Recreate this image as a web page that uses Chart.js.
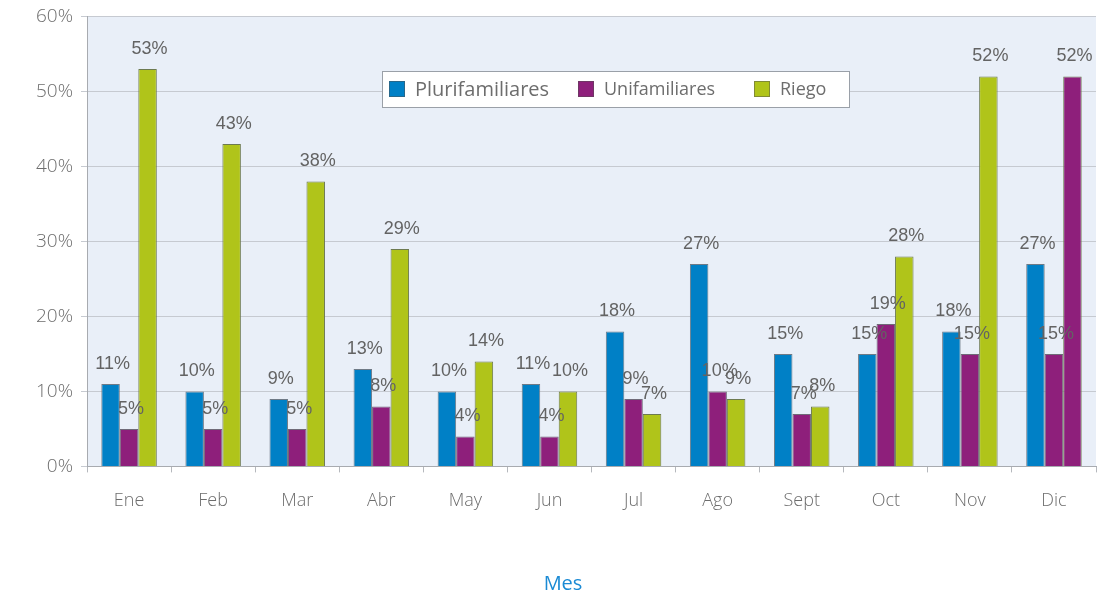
<!DOCTYPE html>
<html>
<head>
<meta charset="utf-8">
<script src="https://cdn.jsdelivr.net/npm/chart.js@4/dist/chart.umd.min.js"></script>
<style>
  html, body { margin: 0; padding: 0; background: #fff; }
  #wrap { width: 1109px; height: 598px; position: relative; }
</style>
</head>
<body>
<div id="wrap"><canvas id="myChart" width="1109" height="598"></canvas></div>
<script>
const meses = ['Ene', 'Feb', 'Mar', 'Abr', 'May', 'Jun', 'Jul', 'Ago', 'Sept', 'Oct', 'Nov', 'Dic']
const plurifamiliares = [11, 10, 9, 13, 10, 11, 18, 27, 15, 15, 18, 27]
const unifamiliares = [5, 5, 5, 8, 4, 4, 9, 10, 7, 19, 15, 15]
const riego = [53, 43, 38, 29, 14, 10, 7, 9, 8, 28, 52, 52]
const yTicks = [0, 10, 20, 30, 40, 50, 60]

const BLUE = '#0080c6'
const PURPLE = '#8e1f7b'
const GREEN = '#b0c41a'

// in the original the last Riego bar is drawn purple
const riegoColors = riego.map((v, i) => i === riego.length - 1 ? PURPLE : GREEN)

// light blue plot background
const plotBg = {
  id: 'plotBg',
  beforeDraw(chart) {
    const a = chart.chartArea
    const ctx = chart.ctx
    ctx.save()
    ctx.fillStyle = '#e9eff8'
    ctx.fillRect(a.left, a.top, a.right - a.left, a.bottom - a.top)
    ctx.restore()
  }
}

// value labels above bars
const barLabels = {
  id: 'barLabels',
  afterDatasetsDraw(chart) {
    const ctx = chart.ctx
    ctx.save()
    ctx.font = '18px "Liberation Sans", Arial, sans-serif'
    ctx.fillStyle = '#636363'
    ctx.textAlign = 'center'
    ctx.textBaseline = 'middle'
    chart.data.datasets.forEach((ds, i) => {
      chart.getDatasetMeta(i).data.forEach((bar, j) => {
        ctx.fillText(ds.data[j] + '%', bar.x + 2, bar.y - 20)
      })
    })
    ctx.restore()
  }
}

// legend box inside the plot + axis title "Mes"
const boxLegend = {
  id: 'boxLegend',
  afterDraw(chart) {
    const ctx = chart.ctx
    ctx.save()
    ctx.fillStyle = '#fff'
    ctx.fillRect(382, 71, 467, 36)
    ctx.strokeStyle = '#9aa0a8'
    ctx.lineWidth = 1
    ctx.strokeRect(382.5, 71.5, 467, 36)
    const items = [
      { text: 'Plurifamiliares', color: BLUE, x: 389, size: 20 },
      { text: 'Unifamiliares', color: PURPLE, x: 578, size: 18 },
      { text: 'Riego', color: GREEN, x: 754, size: 18 }
    ]
    items.forEach(it => {
      ctx.fillStyle = it.color
      ctx.fillRect(it.x, 81, 16, 16)
      ctx.strokeStyle = 'rgba(80,80,80,0.5)'
      ctx.strokeRect(it.x + 0.5, 81.5, 15, 15)
      ctx.fillStyle = '#6d6d6d'
      ctx.font = it.size + 'px "Open Sans", sans-serif'
      ctx.textAlign = 'left'
      ctx.textBaseline = 'middle'
      ctx.fillText(it.text, it.x + 26, 90)
    })

    ctx.fillStyle = '#1a8ad4'
    ctx.font = '20px "Open Sans", sans-serif'
    ctx.textAlign = 'center'
    ctx.textBaseline = 'middle'
    ctx.fillText('Mes', 563, 584)
    ctx.restore()
  }
}

function drawChart() {
  const ctx = document.getElementById('myChart').getContext('2d')
  const chart = new Chart(ctx, {
    type: 'bar',
    data: {
      labels: meses,
      datasets: [
        { label: 'Plurifamiliares', data: plurifamiliares, backgroundColor: BLUE, borderColor: '#6f7a86', borderWidth: 1 },
        { label: 'Unifamiliares', data: unifamiliares, backgroundColor: PURPLE, borderColor: '#6f6a78', borderWidth: 1 },
        { label: 'Riego', data: riego, backgroundColor: riegoColors, borderColor: '#6d7a50', borderWidth: 1 }
      ]
    },
    options: {
      responsive: false,
      animation: false,
      layout: { padding: { top: 0, right: 13, left: 28, bottom: 68 } },
      datasets: { bar: { categoryPercentage: 0.66, barPercentage: 1 } },
      plugins: {
        legend: { display: false },
        tooltip: { enabled: false }
      },
      scales: {
        x: {
          grid: { drawOnChartArea: false, color: '#b5b8bd', tickLength: 6, offset: true },
          border: { color: '#a8abb0' },
          ticks: { color: '#6d6d6d', font: { family: '"Open Sans", sans-serif', size: 18, weight: 300 }, padding: 18 }
        },
        y: {
          min: 0, max: 60,
          afterBuildTicks(axis) { axis.ticks = yTicks.map(v => ({ value: v })) },
          grid: { color: '#c6cad1', tickLength: 6 },
          border: { color: '#a8abb0' },
          ticks: {
            color: '#6d6d6d', font: { family: '"Open Sans", sans-serif', size: 19, weight: 300, lineHeight: 0.9 }, padding: 8,
            callback: v => v + '%'
          }
        }
      }
    },
    plugins: [plotBg, barLabels, boxLegend]
  })
}

drawChart()
</script>
</body>
</html>
